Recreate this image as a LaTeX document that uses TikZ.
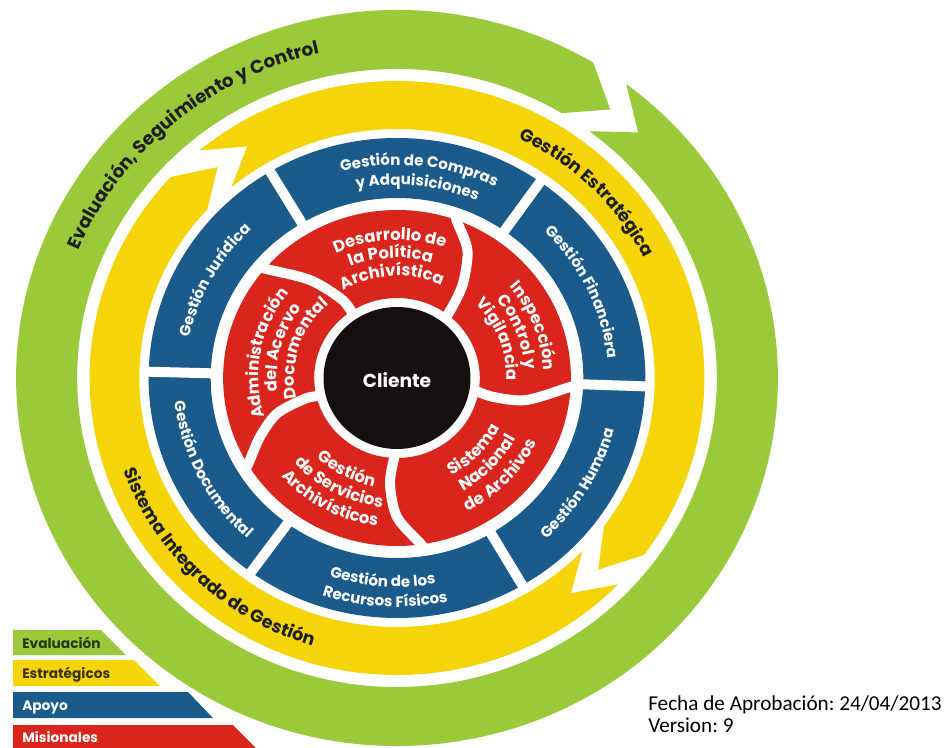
\documentclass[tikz,border=0pt]{standalone}
\usepackage{fontspec}
\setmainfont{Poppins}
\newfontfamily\calfont{Carlito}
\usetikzlibrary{decorations.text}
\frenchspacing
\definecolor{cgreen}{HTML}{9AC93A}
\definecolor{cyellow}{HTML}{F5D50A}
\definecolor{cblue}{HTML}{1A5B8C}
\definecolor{cred}{HTML}{DA251D}
\definecolor{cblack}{HTML}{141010}
\definecolor{cdark}{HTML}{1E1E1E}
\definecolor{cdkgreen}{HTML}{1F3A10}
\definecolor{cdkyel}{HTML}{3A3000}
\newcommand\fG{\fontsize{13.7}{16}\selectfont\bfseries}
\newcommand\fE{\fontsize{13.2}{16}\selectfont\bfseries}
\newcommand\fS{\fontsize{13.2}{16}\selectfont\bfseries}
\newcommand\fB{\fontsize{11.3}{14}\selectfont\bfseries}
\newcommand\fR{\fontsize{12.3}{14}\selectfont\bfseries}
\newcommand\fL{\fontsize{10.3}{12}\selectfont\bfseries}
\newcommand\fC{\fontsize{14}{16}\selectfont\bfseries}
% clockwise arc text (tops outward)
\newcommand\cwl[5]{\path[decorate,decoration={text along path,text align=center,text={|#4|#5}}]
  ({#2+#3}:#1) arc[start angle={#2+#3},end angle={#2-#3},radius=#1];}
% counter-clockwise arc text (tops inward)
\newcommand\ccwl[5]{\path[decorate,decoration={text along path,text align=center,text={|#4|#5}}]
  ({#2-#3}:#1) arc[start angle={#2-#3},end angle={#2+#3},radius=#1];}
\tikzset{
  gapline/.style={white,line width=7.5pt},
  divline/.style={white,line width=7.5pt},
  legendtext/.style={anchor=base west,inner sep=0pt,font=\fL},
  foottext/.style={anchor=base west,inner sep=0pt,font=\calfont\fontsize{15.9}{19}\selectfont,text=black}
}
\begin{document}
\begin{tikzpicture}[x=0.75pt,y=0.75pt]
\useasboundingbox (0,-748) rectangle (945,0);
\fill[white] (0,-748) rectangle (945,0);

% legend bars
\fill[cgreen]  (13,-630) -- (101,-630) -- (126,-655) -- (13,-655) -- cycle;
\fill[cyellow] (13,-660) -- (134,-660) -- (160,-686) -- (13,-686) -- cycle;
\fill[cblue]   (13,-692) -- (188,-692) -- (213,-718) -- (13,-718) -- cycle;
\fill[cred]    (13,-725) -- (233,-725) -- (256,-748) -- (13,-748) -- cycle;
\node[legendtext,text=cdkgreen] (lev) at (22,-648) {Evaluación};
\node[legendtext,text=cdkyel] (les) at (22,-678) {Estratégicos};
\node[legendtext,text=white] (lap) at (22,-710) {Apoyo};
\node[legendtext,text=white] (lmi) at (22,-742) {Misionales};

\begin{scope}[shift={(397,-378)},xscale=1.035]
% green ring with chevron cut
\fill[cgreen] (53:368) arc[start angle=53,end angle=-301,radius=368] -- (-307.5:338.5)
  -- (-301:309) arc[start angle=-301,end angle=53,radius=309] -- (46.5:338.5) -- cycle;
% yellow ring: two arrows
\fill[cyellow] (130:297) arc[start angle=130,end angle=-36.6,radius=297] -- (-44.6:273)
  -- (-36.6:249) arc[start angle=-36.6,end angle=130,radius=249] -- (122:273) -- cycle;
\fill[cyellow] (-44:297) arc[start angle=-44,end angle=-222.6,radius=297] -- (-230.6:273)
  -- (-222.6:249) arc[start angle=-222.6,end angle=-44,radius=249] -- (-52:273) -- cycle;
% blue ring
\fill[cblue,even odd rule] (0,0) circle[radius=240] (0,0) circle[radius=180];
\foreach \a in {178.5,120.7,54.8,-2,-59.7,-126} \draw[gapline] (\a:176) -- (\a:244);
% red pinwheel
\fill[cred,even odd rule] (0,0) circle[radius=168] (0,0) circle[radius=80];
\draw[divline] plot[smooth] coordinates {(71:175) (70:168) (62:145) (56:114) (53:88) (52:74)};
\draw[divline] plot[smooth] coordinates {(-2.5:175) (-3:168) (-10:127) (-11.5:95) (-9:74)};
\draw[divline] plot[smooth] coordinates {(-81:175) (-82:168) (-90:139) (-93.7:105) (-91:74)};
\draw[divline] plot[smooth] coordinates {(-148:175) (-149:168) (-156:145) (-163:121) (-167:90) (-166:74)};
\draw[divline] plot[smooth] coordinates {(140:175) (139.4:168) (130.6:129) (124:94) (124:74)};
% center
\fill[cblack] (0,0) circle[radius=71];
\node[font=\fC,text=white] (cliente) at (0,-2) {Cliente};

% outer labels
\cwl{333}{130.5}{45}{\fG\color{cdark}}{Evaluación, Seguimiento y Control}
\cwl{267}{45}{40}{\fE\color{cdark}}{Gestión Estratégica}
\ccwl{280}{226}{40}{\fS\color{cdark}}{Sistema Integrado de Gestión}
% blue labels
\cwl{204}{151.3}{40}{\fB\color{white}}{Gestión Jurídica}
\cwl{213}{84}{40}{\fB\color{white}}{Gestión de Compras}
\cwl{193}{84}{40}{\fB\color{white}}{y Adquisiciones}
\cwl{204}{25.4}{40}{\fB\color{white}}{Gestión Financiera}
\ccwl{216}{-30.8}{40}{\fB\color{white}}{Gestión Humana}
\ccwl{209}{-94}{40}{\fB\color{white}}{Gestión de los}
\ccwl{229}{-93}{40}{\fB\color{white}}{Recursos Físicos}
\ccwl{216}{207}{40}{\fB\color{white}}{Gestión Documental}
% red labels
\cwl{138}{93}{60}{\fR\color{white}}{Desarrollo de}
\cwl{120}{93}{60}{\fR\color{white}}{la Política}
\cwl{102}{93}{70}{\fR\color{white}}{Archivística}
\cwl{142}{21}{60}{\fR\color{white}}{Inspección}
\cwl{124}{21}{60}{\fR\color{white}}{Control y}
\cwl{106}{21}{70}{\fR\color{white}}{Vigilancia}
\ccwl{111}{-43.5}{70}{\fR\color{white}}{Sistema}
\ccwl{130}{-43.5}{60}{\fR\color{white}}{Nacional}
\ccwl{150}{-43.5}{60}{\fR\color{white}}{de Archivos}
\ccwl{111}{-118.5}{70}{\fR\color{white}}{Gestión}
\ccwl{130}{-118.5}{60}{\fR\color{white}}{de Servicios}
\ccwl{149}{-118.5}{60}{\fR\color{white}}{Archivísticos}
\cwl{134}{169}{60}{\fR\color{white}}{Administración}
\cwl{116}{165}{60}{\fR\color{white}}{del Acervo}
\cwl{99}{162}{70}{\fR\color{white}}{Documental}
\end{scope}

% footer
\node[foottext] (fecha) at (648,-710) {Fecha de Aprobación: 24/04/2013};
\node[foottext] (version) at (648,-732) {Version: 9};
\end{tikzpicture}
\end{document}
